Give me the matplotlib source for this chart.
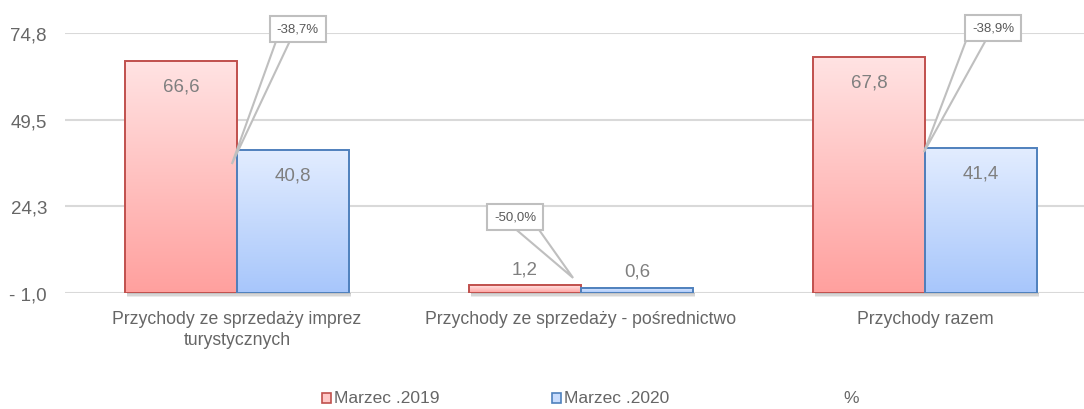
import numpy as np
import matplotlib
matplotlib.use("Agg")
import matplotlib.pyplot as plt
from matplotlib.patches import Rectangle, Polygon

# ---- data ----
categories = ["Przychody ze sprzedaży imprez\nturystycznych",
              "Przychody ze sprzedaży - pośrednictwo",
              "Przychody razem"]
marzec_2019 = [66.6, 1.2, 67.8]
marzec_2020 = [40.8, 0.6, 41.4]
zmiana_pct = ["-38,7%", "-50,0%", "-38,9%"]
series_names = ["Marzec .2019", "Marzec .2020", "%"]
yticks = [-1.0, 24.3, 49.5, 74.8]
ytick_labels = ["- 1,0", "24,3", "49,5", "74,8"]

plt.rcParams['font.family'] = ['Liberation Sans', 'DejaVu Sans']

W, H = 1084, 410
fig = plt.figure(figsize=(W / 100, H / 100), dpi=100)
ax = fig.add_axes([65 / W, 116 / H, 1032 / W, 260 / H])

base = -1.0
ymax = 74.8
ax.set_ylim(base, ymax)
ax.set_xlim(-0.5, 2.5)

x = np.arange(len(categories))
bw = 0.326

def grad_bar(xc, val, top_col, bot_col, edge):
    x0, x1 = xc - bw / 2, xc + bw / 2
    g = np.linspace(0, 1, 256).reshape(-1, 1)
    c0 = np.array(matplotlib.colors.to_rgb(top_col))
    c1 = np.array(matplotlib.colors.to_rgb(bot_col))
    img = c0[None, None, :] * (1 - g[:, :, None]) + c1[None, None, :] * g[:, :, None]
    ax.imshow(img, extent=[x0, x1, base, val], aspect='auto', origin='upper',
              zorder=3, interpolation='bilinear')
    # soft shadow under bar
    for k, a in enumerate([0.45, 0.3, 0.15]):
        ax.add_patch(Rectangle((x0 + 0.006, base - 0.4 * (k + 1)), bw, 0.4,
                               facecolor='#7a7a7a', alpha=a, edgecolor='none',
                               zorder=5, clip_on=False))
    ax.bar(xc, val - base, bottom=base, width=bw, facecolor='none',
           edgecolor=edge, linewidth=1.4, zorder=4)

red_x = x - bw / 2
blue_x = x + bw / 2
for i in range(len(categories)):
    grad_bar(red_x[i], marzec_2019[i], '#ffe3e3', '#ffa09e', '#c0504d')
    grad_bar(blue_x[i], marzec_2020[i], '#e3edff', '#a7c6fb', '#4f81bd')

# data labels
lab_col = '#7f7f7f'
for xs, vals in ((red_x, marzec_2019), (blue_x, marzec_2020)):
    for xi, v in zip(xs, vals):
        txt = f"{v:.1f}".replace('.', ',')
        dy = -18 if v > 10 else 12
        ax.annotate(txt, (xi, v), xytext=(0, dy), textcoords='offset points',
                    ha='center', va='center', fontsize=13.5, color=lab_col, zorder=6)

# gridlines
for t in yticks:
    ax.axhline(t, color='#d9d9d9', linewidth=1.5, zorder=1)
ax.set_yticks(yticks)
ax.set_yticklabels(ytick_labels)
ax.set_xticks(x)
ax.set_xticklabels(categories, linespacing=1.3)
ax.tick_params(axis='both', length=0, colors='#666666')
ax.tick_params(axis='y', pad=13, labelsize=13.5)
ax.tick_params(axis='x', pad=12, labelsize=12.7)
for s in ax.spines.values():
    s.set_visible(False)
ax.set_facecolor('none')

# callouts (percentage change): box centre (data), tip (data), wedge base offsets (px)
callouts = [((0.177, 76.0), (-0.015, 36.6), (-21, -7)),
            ((0.808, 21.2), (0.977, 3.4), (-2, 22)),
            ((2.198, 76.3), (1.997, 40.1), (-26, -6))]
fig.canvas.draw()
tD = ax.transData
inv = tD.inverted()
for pct, (bc, tip, (ox1, ox2)) in zip(zmiana_pct, callouts):
    ax.text(bc[0], bc[1], pct, ha='center', va='center', fontsize=9.5,
            color='#595959', zorder=9, clip_on=False,
            bbox=dict(boxstyle='square,pad=0.55', fc='white', ec='#bfbfbf', lw=1.5))
    cx, cy = tD.transform(bc)
    by = cy - 12
    p1 = inv.transform((cx + ox1, by + 2))
    p2 = inv.transform((cx + ox2, by + 2))
    ax.add_patch(Polygon([p1, p2, tip], closed=True, facecolor='white',
                         edgecolor='#bfbfbf', linewidth=1.5, zorder=8,
                         clip_on=False, joinstyle='miter'))

# legend
leg_y = 399
leg_items = [(322, '#ffc8c7', '#c0504d', series_names[0]),
             (552, '#c8dcfd', '#4f81bd', series_names[1])]
for lx, fc, ec, name in leg_items:
    fig.patches.append(Rectangle((lx / W, (H - leg_y - 5) / H), 9 / W, 10 / H,
                                 transform=fig.transFigure, facecolor=fc,
                                 edgecolor=ec, linewidth=1.2))
    fig.text((lx + 12) / W, (H - leg_y) / H, name, ha='left', va='center',
             fontsize=12.5, color='#666666')
fig.text(843 / W, (H - leg_y) / H, series_names[2], ha='left', va='center',
         fontsize=12.5, color='#666666')

fig.savefig('out.png', dpi=100)
